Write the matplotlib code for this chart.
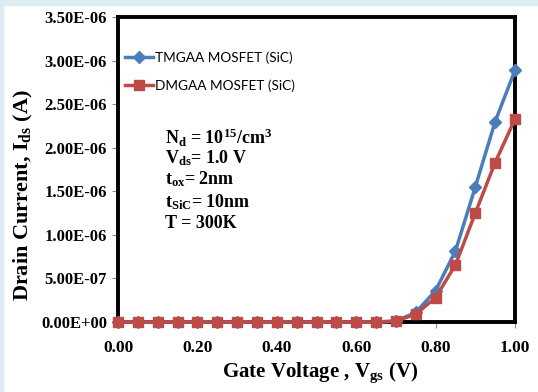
import matplotlib
matplotlib.use("Agg")
import matplotlib.pyplot as plt
from matplotlib.patches import Rectangle
import numpy as np

# gate voltage sweep (V)
vgs = [0.00, 0.05, 0.10, 0.15, 0.20, 0.25, 0.30, 0.35, 0.40, 0.45, 0.50,
       0.55, 0.60, 0.65, 0.70, 0.75, 0.80, 0.85, 0.90, 0.95, 1.00]
# drain current (A)
ids_tmgaa = [0, 0, 0, 0, 0, 0, 0, 0, 0, 0, 0,
             0, 0, 0, 0.01e-6, 0.11e-6, 0.36e-6, 0.815e-6, 1.55e-6, 2.30e-6, 2.89e-6]
ids_dmgaa = [0, 0, 0, 0, 0, 0, 0, 0, 0, 0, 0,
             0, 0, 0, 0.01e-6, 0.09e-6, 0.28e-6, 0.655e-6, 1.25e-6, 1.83e-6, 2.33e-6]

yticks = np.arange(0, 3.51e-6, 0.5e-6)
xticks = [0.0, 0.2, 0.4, 0.6, 0.8, 1.0]

plt.rcParams['mathtext.fontset'] = 'custom'
plt.rcParams['mathtext.rm'] = 'Liberation Serif:bold'
plt.rcParams['mathtext.it'] = 'Liberation Serif:bold'
plt.rcParams['mathtext.bf'] = 'Liberation Serif:bold'

serif = dict(family='Liberation Serif', weight='bold')

fig = plt.figure(figsize=(5.38, 3.92), dpi=100)
# light blue page edge
fig.patches.append(Rectangle((0, 392 - 5), 538, 5, transform=None,
                             color='#dbecf3', zorder=0))
fig.patches.append(Rectangle((0, 0), 3, 392, transform=None,
                             color='#dbecf3', zorder=0))

ax = fig.add_axes([118 / 538, 70 / 392, 397 / 538, 305 / 392])

ax.plot(vgs, ids_tmgaa, color='#4a7ebb', lw=2.5, marker='D', ms=6.5,
        label='TMGAA MOSFET (SiC)', zorder=3, clip_on=False)
ax.plot(vgs, ids_dmgaa, color='#be4b48', lw=2.5, marker='s', ms=6.5,
        label='DMGAA MOSFET (SiC)', zorder=4, clip_on=False)

ax.set_xlim(0, 1.0)
ax.set_ylim(0, 3.5e-6)
ax.set_xticks(xticks)
ax.set_xticklabels(['%.2f' % v for v in xticks], fontdict=serif, fontsize=12.5)
ax.set_yticks(yticks)
ax.set_yticklabels(['%.2E' % v for v in yticks], fontdict=serif, fontsize=12)
ax.tick_params(axis='both', direction='out', length=4, width=0.8,
               color='#888888', pad=4)
ax.tick_params(axis='x', pad=9)

for s in ax.spines.values():
    s.set_linewidth(2.8)
    s.set_color('black')

ax.set_ylabel(r'Drain Current, I$_{\rm ds}$ (A)', fontdict=serif, fontsize=16)
ax.yaxis.set_label_coords(-0.21, 0.416)
ax.set_xlabel(r'Gate Voltage , V$_{\rm gs}$ (V)', fontdict=serif, fontsize=15)
ax.xaxis.set_label_coords(0.51, -0.125)

leg = ax.legend(loc='upper left', bbox_to_anchor=(0.005, 0.905), frameon=False,
                prop=dict(family='Lato', size=9.8), handlelength=2.0,
                handletextpad=0.15, labelspacing=1.15, borderaxespad=0)

params = [r'N$_{\rm d}$ = 10$^{15}$/cm$^{3}$',
          r'V$_{\rm ds}$= 1.0 V',
          r't$_{\rm ox}$= 2nm',
          r't$_{\rm SiC}$= 10nm',
          r'T = 300K']
rows = [138, 158, 179, 202, 223]
for txt, ypx in zip(params, rows):
    ax.text(0.118, (322 - ypx) / 305, txt, transform=ax.transAxes,
            fontdict=serif, fontsize=13, va='center', ha='left')

fig.savefig('out.png', dpi=100)
